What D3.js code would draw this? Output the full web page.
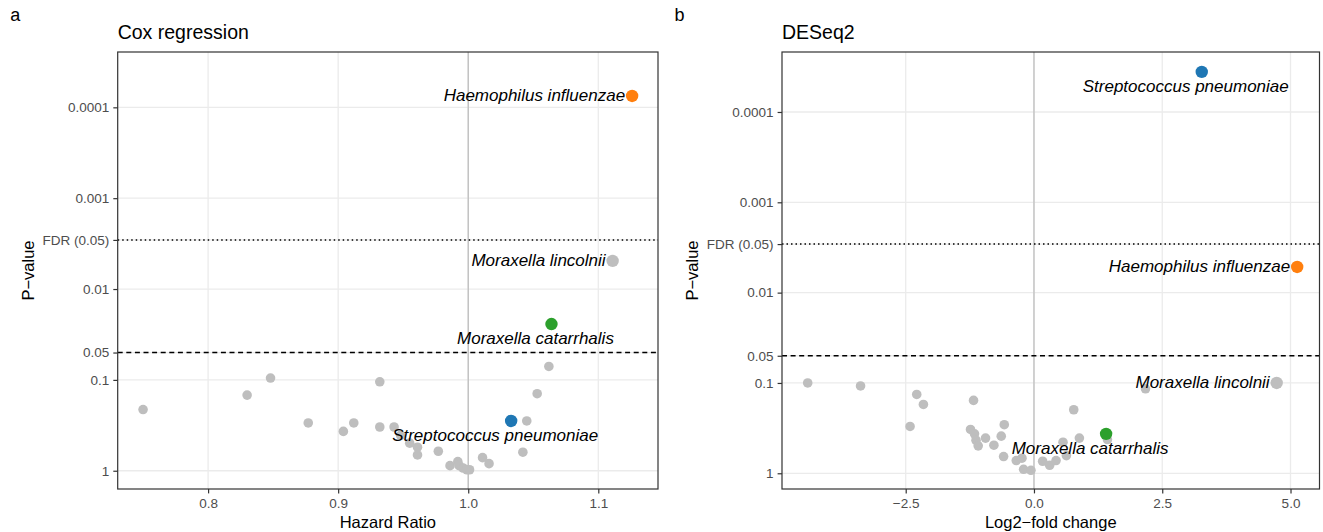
<!DOCTYPE html>
<html>
<head>
<meta charset="utf-8">
<script src="https://cdn.jsdelivr.net/npm/d3@7"></script>
<style>
  body { margin: 0; background: #fff; }
  svg { display: block; font-family: "Liberation Sans", Arial, Helvetica, sans-serif; }
</style>
</head>
<body>
<svg id="chart" width="1323" height="532"></svg>
<script>
// panel a: Cox regression (hazard ratio vs p-value)
const coxHR = [0.750, 0.830, 0.848, 0.877, 0.904, 0.912, 0.932, 0.932, 0.943, 0.948,
  0.955, 0.961, 0.961, 0.977, 0.986, 0.992, 0.993, 0.996, 0.999, 1.001,
  1.011, 1.016, 1.045, 1.042, 1.053, 1.062,
  1.111, 1.126, 1.064, 1.033];
const coxP = [0.212, 0.147, 0.0955, 0.298, 0.369, 0.298, 0.105, 0.330, 0.330, 0.407,
  0.497, 0.551, 0.670, 0.610, 0.879, 0.794, 0.879, 0.933, 0.975, 0.975,
  0.718, 0.836, 0.283, 0.625, 0.142, 0.0711,
  0.0049, 0.000075, 0.0243, 0.283];
const coxName = Array(26).fill("").concat(["Moraxella lincolnii", "Haemophilus influenzae",
  "Moraxella catarrhalis", "Streptococcus pneumoniae"]);
const coxFDR = 0.00288;

// panel b: DESeq2 (log2 fold change vs p-value)
const desLFC = [-4.41, -3.38, -2.285, -2.155, -2.415, -1.178, -1.237, -1.159, -1.13, -1.087,
  -0.944, -0.781, -0.638, -0.579, -0.592, -0.345, -0.234, -0.202, -0.059, 0.169,
  0.306, 0.43, 0.566, 0.632, 0.775, 0.885, 1.432, 2.174,
  4.73, 3.27, 5.13, 1.406];
const desP = [0.100, 0.108, 0.134, 0.173, 0.303, 0.156, 0.327, 0.366, 0.431, 0.497,
  0.408, 0.489, 0.388, 0.290, 0.653, 0.723, 0.681, 0.904, 0.927, 0.736,
  0.815, 0.723, 0.453, 0.637, 0.198, 0.408, 0.423, 0.116,
  0.100, 0.000036, 0.0052, 0.366];
const desName = Array(28).fill("").concat(["Moraxella lincolnii", "Streptococcus pneumoniae",
  "Haemophilus influenzae", "Moraxella catarrhalis"]);
const desFDR = 0.0029;

// highlighted species
const species = ["Streptococcus pneumoniae", "Haemophilus influenzae", "Moraxella catarrhalis", "Moraxella lincolnii"];
const speciesColor = ["#1f77b4", "#ff7f0e", "#2ca02c", "#bebebe"];

const yTickP = [1e-4, 1e-3, 0.01, 0.05, 0.1, 1];
const yTickText = ["0.0001", "0.001", "0.01", "0.05", "0.1", "1"];

const svg = d3.select("#chart");
const color = d3.scaleOrdinal().domain(species).range(speciesColor);

function panel(o) {
  const g = svg.append("g");
  const x = d3.scaleLinear().domain(o.xDomain).range([o.left, o.right]);
  const y = d3.scaleLog().domain(o.yDomain).range([o.top, o.bottom]);
  const pts = o.xs.map((v, i) => ({x: v, p: o.ps[i], name: o.names[i]}));

  const yVals = yTickP.concat([o.fdr]);
  const yLab = yTickText.concat(["FDR (0.05)"]);

  // grid
  g.append("g").selectAll("line").data(o.xTicks).join("line")
    .attr("x1", d => x(d)).attr("x2", d => x(d))
    .attr("y1", o.top).attr("y2", o.bottom)
    .attr("stroke", "#ebebeb").attr("stroke-width", 1.3);
  g.append("g").selectAll("line").data(yVals).join("line")
    .attr("x1", o.left).attr("x2", o.right)
    .attr("y1", d => y(d)).attr("y2", d => y(d))
    .attr("stroke", "#ebebeb").attr("stroke-width", 1.3);

  // reference line
  g.append("line")
    .attr("x1", x(o.ref)).attr("x2", x(o.ref))
    .attr("y1", o.top).attr("y2", o.bottom)
    .attr("stroke", "#bebebe").attr("stroke-width", 1.3);

  // thresholds
  g.append("line")
    .attr("x1", o.left).attr("x2", o.right)
    .attr("y1", y(o.fdr)).attr("y2", y(o.fdr))
    .attr("stroke", "#000").attr("stroke-width", 1.5)
    .attr("stroke-dasharray", "1.5,3");
  g.append("line")
    .attr("x1", o.left).attr("x2", o.right)
    .attr("y1", y(0.05)).attr("y2", y(0.05))
    .attr("stroke", "#000").attr("stroke-width", 1.4)
    .attr("stroke-dasharray", "5,3.6");

  // points: grey first, highlighted on top
  const plain = pts.filter(d => !d.name);
  const hi = pts.filter(d => d.name);
  g.append("g").selectAll("circle").data(plain).join("circle")
    .attr("cx", d => x(d.x)).attr("cy", d => y(d.p))
    .attr("r", 4.8).attr("fill", "#bebebe");
  g.append("g").selectAll("circle").data(hi).join("circle")
    .attr("cx", d => x(d.x)).attr("cy", d => y(d.p))
    .attr("r", 6.2).attr("fill", d => color(d.name));

  // labels
  g.append("g").selectAll("text").data(hi).join("text")
    .attr("x", d => x(d.x) + (o.below.includes(d.name) ? -16 : -7))
    .attr("y", d => y(d.p) + (o.below.includes(d.name) ? 20 : 5))
    .attr("text-anchor", d => o.below.includes(d.name) ? "middle" : "end")
    .attr("font-style", "italic").attr("font-size", "17px").attr("fill", "#000")
    .text(d => d.name);

  // border
  g.append("rect")
    .attr("x", o.left).attr("y", o.top)
    .attr("width", o.right - o.left).attr("height", o.bottom - o.top)
    .attr("fill", "none").attr("stroke", "#333").attr("stroke-width", 1.2);

  // axes
  const ax = g.append("g").attr("transform", `translate(0,${o.bottom})`)
    .call(d3.axisBottom(x).tickValues(o.xTicks).tickFormat(o.xFmt).tickSize(4.4).tickPadding(5));
  const ay = g.append("g").attr("transform", `translate(${o.left},0)`)
    .call(d3.axisLeft(y).tickValues(yVals).tickFormat((d, i) => yLab[i]).tickSize(4.4).tickPadding(4));
  [ax, ay].forEach(a => {
    a.select(".domain").remove();
    a.selectAll(".tick line").attr("stroke", "#333").attr("stroke-width", 1.2);
    a.selectAll(".tick text").attr("fill", "#4d4d4d").attr("font-size", "13.5px")
      .attr("font-family", "Liberation Sans, Arial, Helvetica, sans-serif");
  });

  // titles
  svg.append("text").attr("x", o.left - 107.5).attr("y", 21)
    .attr("font-size", "18px").attr("fill", "#000").text(o.tag);
  svg.append("text").attr("x", o.left).attr("y", 39)
    .attr("font-size", "19.5px").attr("fill", "#000").text(o.title);
  svg.append("text").attr("x", (o.left + o.right) / 2).attr("y", 528)
    .attr("text-anchor", "middle").attr("font-size", "16.5px").attr("fill", "#000").text(o.xTitle);
  svg.append("text")
    .attr("transform", `translate(${o.left - 84},${(o.top + o.bottom) / 2}) rotate(-90)`)
    .attr("text-anchor", "middle").attr("font-size", "16.5px").attr("fill", "#000").text("P\u2212value");
}

panel({
  tag: "a", title: "Cox regression", xTitle: "Hazard Ratio",
  xs: coxHR, ps: coxP, names: coxName, fdr: coxFDR, ref: 1,
  left: 117.7, right: 658, top: 52, bottom: 489,
  xDomain: [0.7305, 1.1459], yDomain: [Math.pow(10, -4.609), Math.pow(10, 0.201)],
  xTicks: [0.8, 0.9, 1.0, 1.1], xFmt: d3.format(".1f"),
  below: ["Moraxella catarrhalis", "Streptococcus pneumoniae"]
});

panel({
  tag: "b", title: "DESeq2", xTitle: "Log2\u2212fold change",
  xs: desLFC, ps: desP, names: desName, fdr: desFDR, ref: 0,
  left: 782, right: 1319.5, top: 52, bottom: 489,
  xDomain: [-4.911, 5.565], yDomain: [Math.pow(10, -4.664), Math.pow(10, 0.174)],
  xTicks: [-2.5, 0, 2.5, 5], xFmt: d => d3.format(".1f")(d).replace("-", "\u2212"),
  below: ["Moraxella catarrhalis", "Streptococcus pneumoniae"]
});
</script>
</body>
</html>
